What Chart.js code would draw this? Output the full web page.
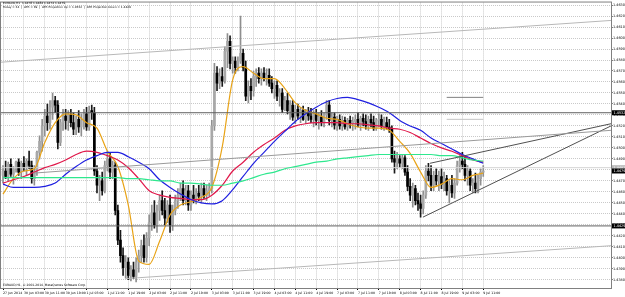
<!DOCTYPE html>
<html><head><meta charset="utf-8">
<script src="https://cdn.jsdelivr.net/npm/chart.js@4.4.1/dist/chart.umd.min.js"></script>
<style>html,body{margin:0;padding:0;background:#fff;overflow:hidden}#wrap{position:relative;width:625px;height:297px}</style>
</head><body><div id="wrap"><canvas id="c" width="625" height="297"></canvas></div>
<script>
const titleLine = 'EURAUD,H1  1.4478 1.4484 1.4474 1.4479';
const infoLine = 'Today = 34  |  ATR = 69  |  ATR Projection Up = 1.4532  |  ATR Projection Down = 1.4429';
const footerLine = 'EURAUD,H1, © 2001-2014, MetaQuotes Software Corp.';
const timeLabels = ['27 Jun 2014','30 Jun 03:00','30 Jun 11:00','30 Jun 19:00','1 Jul 03:00','1 Jul 11:00','1 Jul 19:00','2 Jul 03:00','2 Jul 11:00','2 Jul 19:00','3 Jul 03:00','3 Jul 11:00','3 Jul 19:00','4 Jul 03:00','4 Jul 11:00','4 Jul 19:00','7 Jul 03:00','7 Jul 11:00','7 Jul 19:00','8 Jul 03:00','8 Jul 11:00','8 Jul 19:00','9 Jul 03:00','9 Jul 11:00'];
const priceTicks = [1.4630,1.4620,1.4610,1.4600,1.4590,1.4580,1.4570,1.4560,1.4550,1.4540,1.4530,1.4520,1.4510,1.4500,1.4490,1.4480,1.4470,1.4460,1.4450,1.4440,1.4430,1.4420,1.4410,1.4400,1.4390,1.4380];

const opens = [1.4475,1.4479,1.4474,1.4485,1.4476,1.4481,1.4487,1.4478,1.4486,1.4482,
1.4488,1.4484,1.4472,1.4479,1.4496,1.4506,1.4520,1.4529,1.4523,1.4537,
1.4543,1.4539,1.4505,1.4523,1.4529,1.4525,1.4530,1.4523,1.4517,1.4526,
1.4519,1.4525,1.4531,1.4519,1.4534,1.4532,1.4479,1.4466,1.4470,1.4461,
1.4484,1.4490,1.4478,1.4484,1.4443,1.4416,1.4402,1.4391,1.4396,1.4384,
1.4389,1.4383,1.4396,1.4402,1.4411,1.4400,1.4418,1.4432,1.4441,1.4430,
1.4443,1.4452,1.4443,1.4436,1.4448,1.4430,1.4443,1.4452,1.4457,1.4463,
1.4452,1.4461,1.4448,1.4457,1.4454,1.4459,1.4456,1.4463,1.4457,1.4461,
1.4463,1.4520,1.4568,1.4559,1.4565,1.4561,1.4588,1.4597,1.4577,1.4579,
1.4573,1.4579,1.4586,1.4573,1.4547,1.4556,1.4552,1.4565,1.4568,1.4563,
1.4568,1.4564,1.4566,1.4559,1.4554,1.4557,1.4547,1.4550,1.4535,1.4543,
1.4534,1.4539,1.4528,1.4535,1.4529,1.4534,1.4526,1.4532,1.4529,1.4526,
1.4531,1.4525,1.4528,1.4523,1.4530,1.4539,1.4525,1.4528,1.4521,1.4526,
1.4520,1.4525,1.4519,1.4525,1.4522,1.4524,1.4526,1.4521,1.4527,1.4524,
1.4520,1.4526,1.4523,1.4518,1.4525,1.4526,1.4520,1.4523,1.4519,1.4517,
1.4490,1.4487,1.4490,1.4486,1.4491,1.4478,1.4465,1.4457,1.4463,1.4452,
1.4449,1.4445,1.4457,1.4479,1.4475,1.4466,1.4475,1.4470,1.4474,1.4467,
1.4472,1.4461,1.4466,1.4459,1.4468,1.4484,1.4488,1.4485,1.4475,1.4479,
1.4466,1.4468,1.4463,1.4472,1.4478];
const highs = [1.4484,1.4488,1.4487,1.4490,1.4483,1.4488,1.4490,1.4488,1.4492,1.4490,
1.4497,1.4488,1.4484,1.4497,1.4511,1.4526,1.4535,1.4540,1.4543,1.4550,
1.4547,1.4543,1.4526,1.4535,1.4535,1.4534,1.4535,1.4532,1.4529,1.4534,
1.4531,1.4535,1.4537,1.4538,1.4539,1.4537,1.4484,1.4475,1.4478,1.4488,
1.4497,1.4496,1.4488,1.4487,1.4448,1.4425,1.4409,1.4402,1.4400,1.4393,
1.4396,1.4400,1.4407,1.4416,1.4421,1.4423,1.4439,1.4448,1.4452,1.4448,
1.4457,1.4461,1.4454,1.4452,1.4457,1.4448,1.4457,1.4463,1.4468,1.4470,
1.4466,1.4466,1.4461,1.4466,1.4463,1.4466,1.4468,1.4468,1.4466,1.4468,
1.4525,1.4577,1.4574,1.4572,1.4573,1.4592,1.4604,1.4602,1.4583,1.4583,
1.4583,1.4620,1.4590,1.4579,1.4561,1.4563,1.4570,1.4572,1.4573,1.4572,
1.4573,1.4572,1.4572,1.4565,1.4561,1.4561,1.4554,1.4554,1.4547,1.4550,
1.4543,1.4543,1.4539,1.4540,1.4537,1.4538,1.4535,1.4537,1.4536,1.4534,
1.4535,1.4532,1.4534,1.4532,1.4543,1.4543,1.4532,1.4532,1.4529,1.4530,
1.4529,1.4528,1.4527,1.4529,1.4528,1.4530,1.4532,1.4529,1.4531,1.4530,
1.4529,1.4531,1.4529,1.4527,1.4531,1.4530,1.4528,1.4528,1.4526,1.4520,
1.4497,1.4496,1.4493,1.4494,1.4493,1.4484,1.4472,1.4468,1.4466,1.4459,
1.4457,1.4461,1.4484,1.4486,1.4484,1.4479,1.4481,1.4479,1.4481,1.4478,
1.4475,1.4470,1.4475,1.4472,1.4488,1.4493,1.4496,1.4493,1.4484,1.4481,
1.4472,1.4477,1.4475,1.4481,1.4484];
const lows = [1.4468,1.4472,1.4470,1.4474,1.4467,1.4478,1.4475,1.4472,1.4479,1.4475,
1.4481,1.4468,1.4466,1.4475,1.4490,1.4497,1.4511,1.4516,1.4517,1.4526,
1.4532,1.4499,1.4502,1.4516,1.4517,1.4516,1.4519,1.4512,1.4512,1.4514,
1.4511,1.4517,1.4516,1.4516,1.4526,1.4475,1.4459,1.4452,1.4457,1.4459,
1.4479,1.4472,1.4472,1.4439,1.4412,1.4396,1.4384,1.4382,1.4380,1.4379,
1.4381,1.4378,1.4387,1.4396,1.4396,1.4396,1.4411,1.4425,1.4427,1.4423,
1.4434,1.4439,1.4430,1.4432,1.4423,1.4425,1.4439,1.4445,1.4452,1.4448,
1.4448,1.4443,1.4443,1.4450,1.4449,1.4452,1.4450,1.4454,1.4452,1.4456,
1.4459,1.4516,1.4552,1.4554,1.4556,1.4559,1.4573,1.4572,1.4568,1.4568,
1.4570,1.4577,1.4570,1.4543,1.4541,1.4544,1.4547,1.4556,1.4559,1.4557,
1.4561,1.4557,1.4556,1.4550,1.4545,1.4543,1.4538,1.4532,1.4534,1.4531,
1.4526,1.4525,1.4522,1.4526,1.4523,1.4525,1.4522,1.4525,1.4523,1.4519,
1.4521,1.4517,1.4520,1.4519,1.4526,1.4521,1.4519,1.4517,1.4516,1.4517,
1.4516,1.4517,1.4516,1.4518,1.4516,1.4517,1.4519,1.4516,1.4520,1.4517,
1.4516,1.4519,1.4516,1.4516,1.4519,1.4517,1.4516,1.4517,1.4514,1.4487,
1.4477,1.4481,1.4482,1.4481,1.4475,1.4461,1.4452,1.4446,1.4448,1.4443,
1.4437,1.4440,1.4454,1.4470,1.4461,1.4461,1.4466,1.4461,1.4463,1.4461,
1.4457,1.4450,1.4455,1.4454,1.4466,1.4478,1.4481,1.4470,1.4466,1.4461,
1.4459,1.4459,1.4459,1.4466,1.4474];
const closes = [1.4479,1.4474,1.4485,1.4476,1.4481,1.4487,1.4478,1.4486,1.4482,1.4488,
1.4484,1.4472,1.4479,1.4496,1.4506,1.4520,1.4529,1.4523,1.4537,1.4543,
1.4539,1.4505,1.4523,1.4529,1.4525,1.4530,1.4523,1.4517,1.4526,1.4519,
1.4525,1.4531,1.4519,1.4534,1.4532,1.4479,1.4466,1.4470,1.4461,1.4484,
1.4490,1.4478,1.4484,1.4443,1.4416,1.4402,1.4391,1.4396,1.4384,1.4389,
1.4383,1.4396,1.4402,1.4411,1.4400,1.4418,1.4432,1.4441,1.4430,1.4443,
1.4452,1.4443,1.4436,1.4448,1.4430,1.4443,1.4452,1.4457,1.4463,1.4452,
1.4461,1.4448,1.4457,1.4454,1.4459,1.4456,1.4463,1.4457,1.4461,1.4463,
1.4520,1.4568,1.4559,1.4565,1.4561,1.4588,1.4597,1.4577,1.4579,1.4573,
1.4579,1.4586,1.4573,1.4547,1.4556,1.4552,1.4565,1.4568,1.4563,1.4568,
1.4564,1.4566,1.4559,1.4554,1.4557,1.4547,1.4550,1.4535,1.4543,1.4534,
1.4539,1.4528,1.4535,1.4529,1.4534,1.4526,1.4532,1.4529,1.4526,1.4531,
1.4525,1.4528,1.4523,1.4530,1.4539,1.4525,1.4528,1.4521,1.4526,1.4520,
1.4525,1.4519,1.4525,1.4522,1.4524,1.4526,1.4521,1.4527,1.4524,1.4520,
1.4526,1.4523,1.4518,1.4525,1.4526,1.4520,1.4523,1.4519,1.4517,1.4490,
1.4487,1.4490,1.4486,1.4491,1.4478,1.4465,1.4457,1.4463,1.4452,1.4449,
1.4445,1.4457,1.4479,1.4475,1.4466,1.4475,1.4470,1.4474,1.4467,1.4472,
1.4461,1.4466,1.4459,1.4468,1.4484,1.4488,1.4485,1.4475,1.4479,1.4466,
1.4468,1.4463,1.4472,1.4478,1.4479];

const maBars = [0,4,8,12,16,20,24,28,32,36,40,44,48,52,56,60,64,68,72,76,80,84,88,92,96,100,104,108,112,116,120,124,128,132,136,140,144,148,152,156,160,164,168,172,176,180,184];
const maFast = [1.4458,1.4472,1.4479,1.4481,1.4505,1.4523,1.4531,1.4530,1.4523,1.4518,1.4497,1.4483,1.4448,1.4397,1.4394,1.4415,1.4439,1.4448,1.4451,1.4455,1.4464,1.4501,1.4562,1.4574,1.4568,1.4563,1.4563,1.4554,1.4541,1.4534,1.4531,1.4527,1.4526,1.4522,1.4519,1.4518,1.4518,1.4516,1.4506,1.4495,1.4478,1.4464,1.4467,1.4472,1.4471,1.4475,1.4477];
const maMid = [1.4468,1.4471,1.4474,1.4478,1.4482,1.4485,1.4489,1.4494,1.4497,1.4496,1.4493,1.4489,1.4482,1.4472,1.4461,1.4457,1.4455,1.4454,1.4453,1.4453,1.4457,1.4466,1.4479,1.4487,1.4496,1.4503,1.4509,1.4516,1.4520,1.4522,1.4523,1.4523,1.4523,1.4522,1.4522,1.4521,1.4520,1.4518,1.4517,1.4514,1.4509,1.4504,1.4500,1.4497,1.4493,1.4489,1.4487];
const maBlue = [1.4467,1.4464,1.4464,1.4464,1.4465,1.4468,1.4476,1.4483,1.4489,1.4493,1.4496,1.4496,1.4492,1.4487,1.4481,1.4471,1.4464,1.4458,1.4453,1.4450,1.4449,1.4452,1.4462,1.4474,1.4486,1.4496,1.4506,1.4515,1.4524,1.4531,1.4537,1.4542,1.4545,1.4546,1.4544,1.4541,1.4537,1.4532,1.4525,1.4520,1.4516,1.4509,1.4504,1.4499,1.4494,1.4490,1.4486];
const maSlow = [1.4473,1.4473,1.4473,1.4473,1.4473,1.4473,1.4473,1.4473,1.4473,1.4473,1.4473,1.4473,1.4472,1.4472,1.4471,1.4470,1.4470,1.4468,1.4468,1.4467,1.4466,1.4466,1.4468,1.4470,1.4473,1.4476,1.4478,1.4481,1.4483,1.4485,1.4487,1.4488,1.4490,1.4491,1.4492,1.4493,1.4494,1.4494,1.4494,1.4494,1.4494,1.4494,1.4493,1.4493,1.4491,1.4489,1.4488];

const channelUpper = [[-0.77,1.4578],[232.95,1.4616]];
const channelLower = [[46.7,1.4381],[232.95,1.4411]];
const midLine = [[11.5,1.4477],[232.95,1.4516]];
const triUpper = [[163.6,1.4486],[232.95,1.4522]];
const triLower = [[160.9,1.4437],[232.95,1.4520]];
const projUp = 1.4532, projDown = 1.4429, bidPrice = 1.4479, askPrice = 1.4482;
const segA = [[170,1.4546],[184,1.4546]];
const segB = [[170,1.4526],[184,1.4526]];

const XMIN = -0.77, XMAX = 232.95, YMIN = 1.43725, YMAX = 1.46323;
const pts = a => a.map(p => ({x:p[0], y:p[1]}));
const hline = v => [{x:XMIN,y:v},{x:XMAX,y:v}];
const isBull = i => closes[i] >= opens[i];
const wicks = opens.map((_,i)=>({x:i, y:[lows[i], highs[i]]}));
const bodies = opens.map((_,i)=>({x:i, y:[opens[i], closes[i]]}));
const maPts = arr => arr.map((v,k)=>({x:maBars[k], y:v}));
const lineDs = (data,color,w,order) => ({type:'line', data, borderColor:color, borderWidth:w, pointRadius:0, fill:false, tension:0, order});
const maDs = (arr,color) => Object.assign(lineDs(maPts(arr),color,1.2,2), {cubicInterpolationMode:'monotone'});
const FONT = '"DejaVu Sans"';

const overlay = {
  id:'overlay',
  afterDraw(chart){
    const ctx = chart.ctx, a = chart.chartArea, ys = chart.scales.y;
    ctx.save();
    ctx.strokeStyle = '#808080'; ctx.lineWidth = 1;
    ctx.strokeRect(a.left-0.5, a.top-0.5, a.right-a.left+1, a.bottom-a.top+1);
    ctx.fillStyle = '#000'; ctx.textBaseline = 'middle'; ctx.textAlign = 'left';
    ctx.font = '2.9px ' + FONT;
    ctx.fillText(titleLine, 3, 3.6);
    ctx.fillText(infoLine, 3, 7.4);
    ctx.font = '3px ' + FONT;
    ctx.fillText(footerLine, 3, a.bottom - 3);
    ctx.font = '3.4px ' + FONT;
    const box = (v, bg) => {
      const y = ys.getPixelForValue(v);
      ctx.fillStyle = bg; ctx.fillRect(a.right+1, y-2.5, 625-a.right-1, 5);
      ctx.fillStyle = '#fff'; ctx.fillText(v.toFixed(4), a.right+2.5, y);
    };
    box(askPrice, '#b8b8b8');
    box(bidPrice, '#000');
    box(projUp, '#000');
    box(projDown, '#000');
    ctx.restore();
  }
};

new Chart(document.getElementById('c'), {
  type:'bar',
  data:{ datasets:[
    lineDs(pts(channelUpper),'#b8b8b8',1,1),
    lineDs(pts(channelLower),'#b8b8b8',1,1),
    lineDs(pts(midLine),'#9a9a9a',1,1),
    lineDs(pts(triUpper),'#505050',1,1),
    lineDs(pts(triLower),'#505050',1,1),
    lineDs(hline(projUp),'#606060',1,1),
    lineDs(hline(projDown),'#606060',1,1),
    lineDs(hline(askPrice),'#d4d4d4',1,5),
    lineDs(pts(segA),'#808080',1,1),
    lineDs(pts(segB),'#c4c4c4',1,1),
    maDs(maSlow,'#2ee88e'),
    maDs(maBlue,'#1f1fe0'),
    maDs(maMid,'#e0184a'),
    maDs(maFast,'#e8a317'),
    {type:'bar', data:wicks, grouped:false, barThickness:1, order:10,
      backgroundColor: c => isBull(c.dataIndex) ? '#8f8f8f' : '#1a1a1a'},
    {type:'bar', data:bodies, grouped:false, barThickness:2, minBarLength:1, order:9,
      backgroundColor: c => isBull(c.dataIndex) ? '#a8a8a8' : '#000'}
  ]},
  options:{
    responsive:false, animation:false, events:[],
    layout:{padding:{top:1,left:1,right:0,bottom:0}},
    plugins:{legend:{display:false}, tooltip:{enabled:false}, title:{display:false}},
    scales:{
      x:{type:'linear', min:XMIN, max:XMAX, offset:false,
        afterBuildTicks: s => { s.ticks = timeLabels.map((_,k)=>({value:k*8})); },
        afterFit: s => { s.height = 9; },
        ticks:{autoSkip:false, maxRotation:0, minRotation:0, align:'start', padding:1.5, color:'#000', font:{size:3.2, family:'DejaVu Sans'},
          callback:(v,i)=>timeLabels[i]},
        grid:{color:'#c9c9c9', lineWidth:1, tickLength:2, tickColor:'#000', offset:false},
        border:{display:true, color:'#000', dash:[1,1]}},
      y:{position:'right', min:YMIN, max:YMAX,
        afterBuildTicks: s => { s.ticks = priceTicks.map(v=>({value:v})); },
        afterFit: s => { s.width = 14; },
        ticks:{padding:0.5, color:'#000', font:{size:3.4, family:'DejaVu Sans'}, callback:v=>v.toFixed(4)},
        grid:{color:'#c9c9c9', lineWidth:1, tickLength:1.5, tickColor:'#000'},
        border:{display:true, color:'#000', dash:[1,1]}}
    }
  },
  plugins:[overlay]
});
</script></body></html>
